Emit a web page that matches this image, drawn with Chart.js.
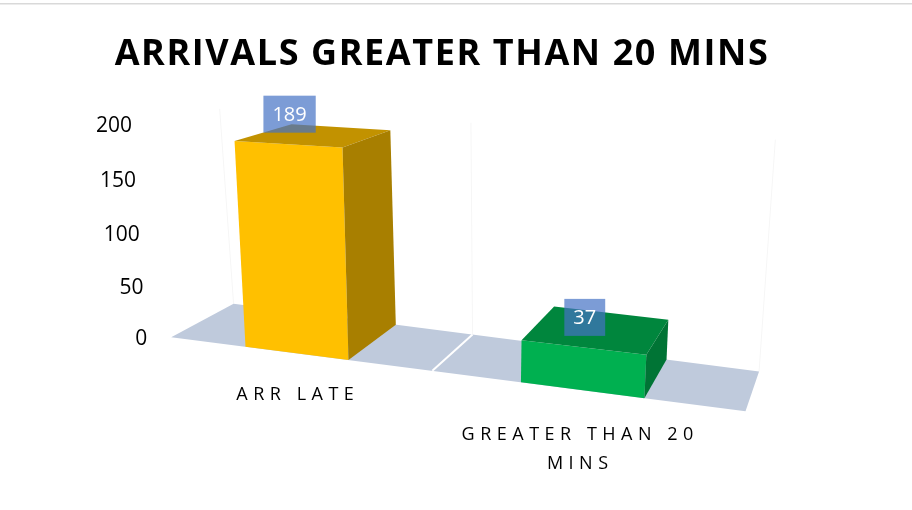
<!DOCTYPE html>
<html>
<head>
<meta charset="utf-8">
<script src="https://cdn.jsdelivr.net/npm/chart.js"></script>
<style>
  html, body { margin: 0; padding: 0; background: #ffffff; }
  #chart { display: block; }
</style>
</head>
<body>
<canvas id="chart" width="912" height="510"></canvas>
<script>
// ---------------- data ----------------
const categories = ['ARR LATE', 'GREATER THAN 20 MINS'];
const values = [189, 37];
const yMin = 0;
const yMax = 200;
const yStep = 50;
const titleText = 'ARRIVALS GREATER THAN 20 MINS';

// ---------------- style / view ----------------
const frontColors = ['#FFC000', '#00B050'];
const floorColor = '#bfcadc';
const labelBoxColor = 'rgba(68,114,196,0.70)';
const FONT = '"Open Sans", "Noto Sans", sans-serif';

// camera: where the front plane of the plot (category range x value range) lands on screen
const frontPlane = {
  bl: [171.2, 337.2],
  br: [745.5, 411.2],
  tr: [763.3, 157.7],
  tl: [156.0, 124.1]
};
const vanishingPoint = [905, -56];
const depthFraction = 0.085;
const xLabelDrop = 0.2;      // category labels sit below the floor (fraction of value range)
const yLabelGap = 24;        // value labels sit left of the front plane
const yLabelShift = 2;

function makeHomography(q) {
  const [x0, y0] = q.bl, [x1, y1] = q.br, [x2, y2] = q.tr, [x3, y3] = q.tl;
  const dx1 = x1 - x2, dx2 = x3 - x2, dx3 = x0 - x1 + x2 - x3;
  const dy1 = y1 - y2, dy2 = y3 - y2, dy3 = y0 - y1 + y2 - y3;
  const den = dx1 * dy2 - dx2 * dy1;
  const g = (dx3 * dy2 - dx2 * dy3) / den;
  const h = (dx1 * dy3 - dx3 * dy1) / den;
  const a = x1 - x0 + g * x1, b = x3 - x0 + h * x3, c = x0;
  const d = y1 - y0 + g * y1, e = y3 - y0 + h * y3, f = y0;
  return (u, w) => {
    const z = g * u + h * w + 1;
    return [(a * u + b * w + c) / z, (d * u + e * w + f) / z];
  };
}
const project = makeHomography(frontPlane);
const toBack = p => [p[0] + depthFraction * (vanishingPoint[0] - p[0]),
                     p[1] + depthFraction * (vanishingPoint[1] - p[1])];

function shade(hex, k) {
  const n = parseInt(hex.slice(1), 16);
  const r = Math.round(((n >> 16) & 255) * k);
  const g = Math.round(((n >> 8) & 255) * k);
  const b = Math.round((n & 255) * k);
  return `rgb(${r},${g},${b})`;
}
function poly(ctx, pts, fill) {
  ctx.beginPath();
  ctx.moveTo(pts[0][0], pts[0][1]);
  for (let i = 1; i < pts.length; i++) ctx.lineTo(pts[i][0], pts[i][1]);
  ctx.closePath();
  ctx.fillStyle = fill;
  ctx.fill();
}
function wrapLabel(s, max) {
  const words = String(s).split(' ');
  const lines = [];
  let cur = '';
  for (const wd of words) {
    const t = cur ? cur + ' ' + wd : wd;
    if (t.length > max && cur) { lines.push(cur); cur = wd; } else { cur = t; }
  }
  if (cur) lines.push(cur);
  return lines.length > 1 ? lines : lines[0];
}

// ---------------- perspective scales ----------------
class PerspectiveCategory extends Chart.CategoryScale {
  static id = 'perspectiveCategory';
  _computeLabelArea() { return undefined; }
  _computeLabelItems(area) {
    const items = super._computeLabelItems(area);
    for (const it of items) {
      const u = (it.options.translation[0] - this.left) / (this.right - this.left);
      const p = project(u, -xLabelDrop);
      it.options.translation = [p[0], p[1] - it.textOffset];
    }
    return items;
  }
  drawLabels(area) {
    const ctx = this.ctx;
    ctx.save();
    ctx.letterSpacing = '5.5px';
    super.drawLabels(area);
    ctx.restore();
  }
}
class PerspectiveLinear extends Chart.LinearScale {
  static id = 'perspectiveLinear';
  _computeLabelArea() { return undefined; }
  _computeLabelItems(area) {
    const items = super._computeLabelItems(area);
    for (const it of items) {
      const w = (this.bottom - it.options.translation[1]) / (this.bottom - this.top);
      const p = project(0, w);
      it.options.translation = [p[0] - yLabelGap, p[1] + yLabelShift];
      it.options.textAlign = 'right';
    }
    return items;
  }
  drawLabels(area) {
    const ctx = this.ctx;
    ctx.save();
    ctx.letterSpacing = '0px';
    super.drawLabels(area);
    ctx.restore();
  }
}
Chart.register(PerspectiveCategory, PerspectiveLinear);

// ---------------- 3D drawing plugin ----------------
const perspective3d = {
  id: 'perspective3d',
  beforeDraw(chart) {
    const ctx = chart.ctx;
    ctx.save();
    ctx.fillStyle = '#d9d9d9';
    ctx.fillRect(0, 3, chart.width, 1.5);
    ctx.restore();
    ctx.letterSpacing = '1.6px';
  },
  beforeDatasetsDraw(chart) {
    const ctx = chart.ctx;
    ctx.save();
    ctx.letterSpacing = '0px';
    const n = chart.data.labels.length;
    // faint back-wall verticals
    ctx.strokeStyle = 'rgba(0,0,0,0.04)';
    ctx.lineWidth = 1;
    for (let i = 0; i <= n; i++) {
      const u = i / n;
      const b0 = toBack(project(u, 0)), b1 = toBack(project(u, 1));
      ctx.beginPath(); ctx.moveTo(b0[0], b0[1]); ctx.lineTo(b1[0], b1[1]); ctx.stroke();
    }
    // floor
    const fl = project(0, 0), fr = project(1, 0);
    poly(ctx, [fl, fr, toBack(fr), toBack(fl)], floorColor);
    // category dividers on the floor
    ctx.strokeStyle = '#ffffff';
    ctx.lineWidth = 2;
    for (let i = 1; i < n; i++) {
      const f = project(i / n, 0), b = toBack(f);
      ctx.beginPath(); ctx.moveTo(f[0], f[1]); ctx.lineTo(b[0], b[1]); ctx.stroke();
    }
    ctx.restore();
  },
  afterDatasetsDraw(chart) {
    const ctx = chart.ctx;
    const area = chart.chartArea;
    const toU = x => (x - area.left) / (area.right - area.left);
    const toW = y => (area.bottom - y) / (area.bottom - area.top);
    const meta = chart.getDatasetMeta(0);
    ctx.save();
    ctx.letterSpacing = '0px';
    meta.data.forEach((el, i) => {
      const p = el.getProps(['x', 'y', 'base', 'width'], true);
      const uL = toU(p.x - p.width / 2), uR = toU(p.x + p.width / 2);
      const wT = toW(p.y), wB = toW(p.base);
      const col = frontColors[i % frontColors.length];
      const FLB = project(uL, wB), FRB = project(uR, wB), FRT = project(uR, wT), FLT = project(uL, wT);
      poly(ctx, [FLB, FRB, FRT, FLT], col);
      poly(ctx, [FLT, FRT, toBack(FRT), toBack(FLT)], shade(col, 0.76));
      poly(ctx, [FRB, toBack(FRB), toBack(FRT), FRT], shade(col, 0.66));
    });
    // data labels
    meta.data.forEach((el, i) => {
      const p = el.getProps(['x', 'y', 'width'], true);
      const a = project(toU(p.x), toW(p.y));
      const txt = String(chart.data.datasets[0].data[i]);
      ctx.font = '20px ' + FONT;
      const tw = ctx.measureText(txt).width;
      const bw = tw + 18, bh = 37;
      const cx = a[0] + 2, cy = a[1] - 30;
      ctx.fillStyle = labelBoxColor;
      ctx.fillRect(cx - bw / 2, cy - bh / 2, bw, bh);
      ctx.fillStyle = '#ffffff';
      ctx.textAlign = 'center';
      ctx.textBaseline = 'middle';
      ctx.fillText(txt, cx, cy + 1);
    });
    ctx.restore();
  },
  afterDraw(chart) {
    chart.ctx.letterSpacing = '0px';
  }
};

new Chart(document.getElementById('chart'), {
  type: 'bar',
  data: {
    labels: categories,
    datasets: [{
      data: values,
      backgroundColor: 'rgba(0,0,0,0)',
      borderWidth: 0,
      barPercentage: 0.395,
      categoryPercentage: 1.0
    }]
  },
  options: {
    responsive: false,
    animation: false,
    devicePixelRatio: 1,
    layout: { padding: { left: 0, right: 28, top: 0, bottom: 10 } },
    plugins: {
      legend: { display: false },
      tooltip: { enabled: false },
      title: {
        display: true,
        text: titleText,
        color: '#000000',
        font: { family: FONT, size: 36, weight: 'bold', lineHeight: 1.2 },
        padding: { top: 33, bottom: 16 }
      }
    },
    scales: {
      x: {
        type: 'perspectiveCategory',
        grid: { display: false, drawTicks: false },
        border: { display: false },
        ticks: {
          color: '#000000',
          font: { family: FONT, size: 18, lineHeight: 1.6 },
          maxRotation: 0,
          autoSkip: false,
          padding: 10,
          callback: function (value) { return wrapLabel(this.getLabelForValue(value), 15); }
        }
      },
      y: {
        type: 'perspectiveLinear',
        min: yMin,
        max: yMax,
        grid: { display: false, drawTicks: false },
        border: { display: false },
        ticks: {
          stepSize: yStep,
          color: '#000000',
          font: { family: FONT, size: 21 },
          padding: 8
        }
      }
    }
  },
  plugins: [perspective3d]
});
</script>
</body>
</html>
